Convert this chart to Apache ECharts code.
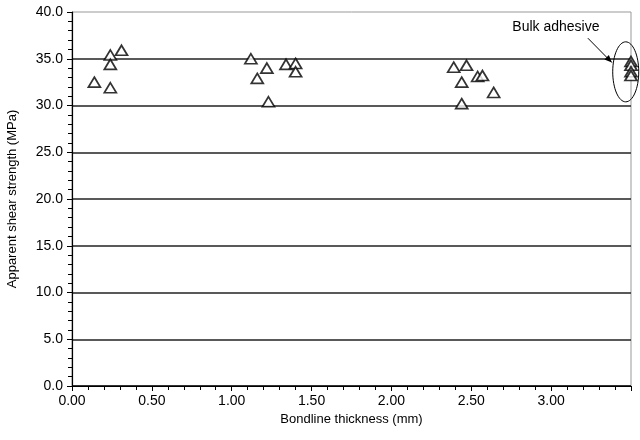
<!DOCTYPE html>
<html lang="en">
<head>
    <meta charset="UTF-8">
    <title>Shear strength vs bondline thickness</title>
    <script src="https://cdn.jsdelivr.net/npm/echarts@6/dist/echarts.min.js"></script>
</head>
<body style="margin:0">
    <div id="main" style="width: 640px;height:440px;"></div>
    <script type="text/javascript">
        // bondline thickness (mm)
        const thickness = [0.14, 0.24, 0.24, 0.31, 0.24,
            1.12, 1.22, 1.16, 1.34, 1.40, 1.40, 1.23,
            2.39, 2.47, 2.44, 2.54, 2.57, 2.64, 2.44];
        // apparent shear strength (MPa)
        const strength = [32.5, 35.4, 34.4, 35.9, 31.9,
            35.0, 34.0, 32.9, 34.4, 34.5, 33.6, 30.4,
            34.1, 34.3, 32.5, 33.1, 33.2, 31.4, 30.2];
        // bulk adhesive specimens
        const bulkX = [3.5, 3.5, 3.5, 3.5];
        const bulkY = [34.7, 34.3, 33.6, 33.2];

        const font = 'Liberation Sans, Arial, sans-serif';
        const tri = {
            type: 'scatter',
            symbol: 'triangle',
            symbolSize: [12, 10],
            itemStyle: { color: '#fff', borderColor: '#000', borderWidth: 1.7 },
            clip: false
        };

        const myChart = echarts.init(document.getElementById('main'));
        const option = {
            animation: false,
            backgroundColor: '#fff',
            grid: {
                left: 72, right: 9, top: 12, bottom: 54, outerBoundsMode: 'none', containLabel: false,
                show: true, borderColor: '#999', borderWidth: 1
            },
            xAxis: {
                type: 'value', min: 0, max: 3.5, interval: 0.5,
                name: 'Bondline thickness (mm)', nameLocation: 'middle', nameGap: 21,
                nameTextStyle: { color: '#000', fontSize: 13, fontFamily: font },
                axisLine: { lineStyle: { color: '#000', width: 1.2 } },
                axisTick: { show: true, length: 5, lineStyle: { color: '#000' } },
                minorTick: { show: true, splitNumber: 5, length: 4, lineStyle: { color: '#000' } },
                splitLine: { show: false },
                axisLabel: {
                    color: '#000', fontSize: 14, fontFamily: font, margin: 8,
                    formatter: v => v >= 3.5 ? '' : v.toFixed(2)
                }
            },
            yAxis: {
                type: 'value', min: 0, max: 40, interval: 5,
                name: 'Apparent shear strength (MPa)', nameLocation: 'middle', nameGap: 53,
                nameTextStyle: { color: '#000', fontSize: 13, fontFamily: font },
                axisLine: { show: true, lineStyle: { color: '#000', width: 1.2 } },
                axisTick: { show: true, length: 5, lineStyle: { color: '#000' } },
                minorTick: { show: true, splitNumber: 5, length: 4, lineStyle: { color: '#000' } },
                splitLine: {
                    show: true,
                    lineStyle: {
                        width: 1.6,
                        color: ['#000', '#222', '#222', '#222', '#222', '#222', '#222', '#222', 'transparent']
                    }
                },
                axisLabel: {
                    color: '#000', fontSize: 14, fontFamily: font, margin: 9,
                    formatter: v => v.toFixed(1)
                }
            },
            series: [
                Object.assign({}, tri, { data: thickness.map((x, i) => [x, strength[i]]) }),
                Object.assign({}, tri, { data: bulkX.map((x, i) => [x, bulkY[i]]) })
            ]
        };
        myChart.setOption(option);

        // annotation: ellipse round the bulk points + label with arrow
        const c = myChart.convertToPixel('grid', [3.467, 33.6]);
        const tip = myChart.convertToPixel('grid', [3.38, 34.6]);
        const tail = myChart.convertToPixel('grid', [3.23, 37.2]);
        const txt = myChart.convertToPixel('grid', [3.03, 38.4]);
        const ang = Math.atan2(tip[1] - tail[1], tip[0] - tail[0]);
        const head = (a, r) => [tip[0] - r * Math.cos(ang + a), tip[1] - r * Math.sin(ang + a)];
        myChart.setOption({
            graphic: [
                {
                    type: 'ellipse', shape: { cx: c[0], cy: c[1], rx: 13, ry: 30 },
                    style: { fill: 'none', stroke: '#000', lineWidth: 1 }, z: 10
                },
                {
                    type: 'line', shape: { x1: tail[0], y1: tail[1], x2: tip[0], y2: tip[1] },
                    style: { stroke: '#000', lineWidth: 1 }, z: 10
                },
                {
                    type: 'polygon', z: 10,
                    shape: { points: [tip, head(0.4, 8), head(-0.4, 8)] },
                    style: { fill: '#000' }
                },
                {
                    type: 'text', x: txt[0], y: txt[1], z: 10,
                    style: { text: 'Bulk adhesive', fill: '#000', font: '14px ' + font, align: 'center', verticalAlign: 'middle' }
                }
            ]
        });
    </script>
</body>
</html>
